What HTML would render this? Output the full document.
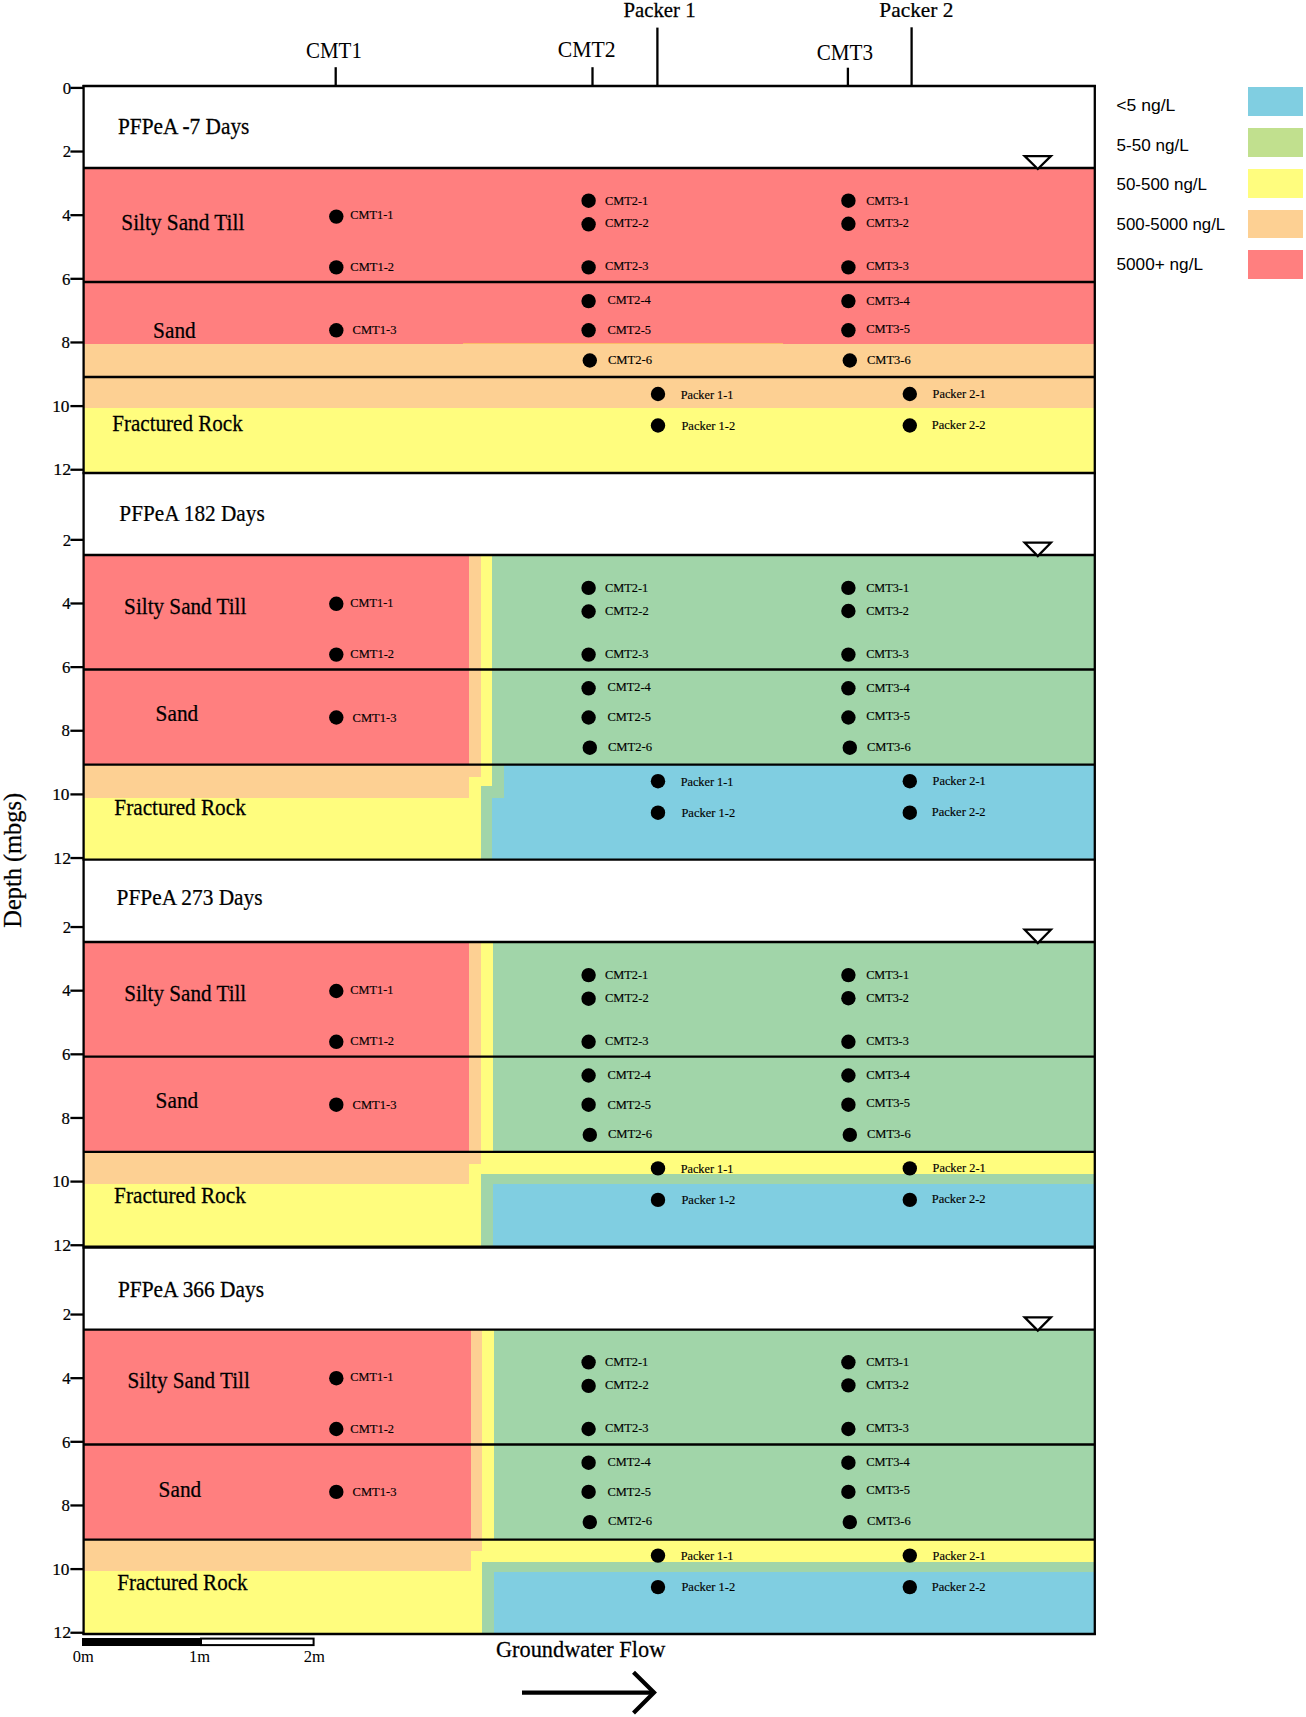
<!DOCTYPE html>
<html><head><meta charset="utf-8"><title>PFPeA depth profiles</title>
<style>
html,body{margin:0;padding:0;background:#fff;}
body{width:1306px;height:1717px;overflow:hidden;}
svg{display:block;}
text{fill:#000;}
</style></head>
<body>
<svg width="1306" height="1717" viewBox="0 0 1306 1717">
<rect x="0" y="0" width="1306" height="1717" fill="#fff"/>
<rect x="84.00" y="168.00" width="1011.00" height="176.00" fill="#FF7F7F" shape-rendering="crispEdges"/>
<rect x="84.00" y="344.00" width="1011.00" height="63.80" fill="#FDD093" shape-rendering="crispEdges"/>
<rect x="84.00" y="407.80" width="1011.00" height="65.20" fill="#FFFD7E" shape-rendering="crispEdges"/>
<rect x="463.00" y="342.60" width="320.00" height="1.00" fill="#FDBA66" shape-rendering="crispEdges"/>
<rect x="84.00" y="555.00" width="385.20" height="209.70" fill="#FF7F7F" shape-rendering="crispEdges"/>
<rect x="469.20" y="555.00" width="11.70" height="209.70" fill="#FDD093" shape-rendering="crispEdges"/>
<rect x="480.90" y="555.00" width="11.40" height="209.70" fill="#FFFD7E" shape-rendering="crispEdges"/>
<rect x="492.30" y="555.00" width="602.70" height="209.70" fill="#A1D5A9" shape-rendering="crispEdges"/>
<rect x="84.00" y="764.70" width="385.20" height="33.50" fill="#FDD093" shape-rendering="crispEdges"/>
<rect x="84.00" y="798.20" width="385.20" height="61.50" fill="#FFFD7E" shape-rendering="crispEdges"/>
<rect x="469.20" y="764.70" width="11.70" height="12.30" fill="#FDD093" shape-rendering="crispEdges"/>
<rect x="469.20" y="777.00" width="11.70" height="82.70" fill="#FFFD7E" shape-rendering="crispEdges"/>
<rect x="480.90" y="764.70" width="11.40" height="21.10" fill="#FFFD7E" shape-rendering="crispEdges"/>
<rect x="480.90" y="785.80" width="11.40" height="73.90" fill="#A1D5A9" shape-rendering="crispEdges"/>
<rect x="492.30" y="764.70" width="11.90" height="32.80" fill="#A1D5A9" shape-rendering="crispEdges"/>
<rect x="492.30" y="797.50" width="11.90" height="62.20" fill="#80CEE1" shape-rendering="crispEdges"/>
<rect x="504.20" y="764.70" width="590.80" height="95.00" fill="#80CEE1" shape-rendering="crispEdges"/>
<rect x="84.00" y="942.00" width="385.10" height="209.80" fill="#FF7F7F" shape-rendering="crispEdges"/>
<rect x="469.10" y="942.00" width="11.90" height="209.80" fill="#FDD093" shape-rendering="crispEdges"/>
<rect x="481.00" y="942.00" width="11.50" height="209.80" fill="#FFFD7E" shape-rendering="crispEdges"/>
<rect x="492.50" y="942.00" width="602.50" height="209.80" fill="#A1D5A9" shape-rendering="crispEdges"/>
<rect x="84.00" y="1151.80" width="385.10" height="32.00" fill="#FDD093" shape-rendering="crispEdges"/>
<rect x="84.00" y="1183.80" width="385.10" height="63.40" fill="#FFFD7E" shape-rendering="crispEdges"/>
<rect x="469.10" y="1151.80" width="11.90" height="11.90" fill="#FDD093" shape-rendering="crispEdges"/>
<rect x="469.10" y="1163.70" width="11.90" height="83.50" fill="#FFFD7E" shape-rendering="crispEdges"/>
<rect x="481.00" y="1151.80" width="11.50" height="22.50" fill="#FFFD7E" shape-rendering="crispEdges"/>
<rect x="481.00" y="1174.30" width="11.50" height="72.90" fill="#A1D5A9" shape-rendering="crispEdges"/>
<rect x="492.50" y="1151.80" width="602.50" height="22.50" fill="#FFFD7E" shape-rendering="crispEdges"/>
<rect x="492.50" y="1174.30" width="602.50" height="9.70" fill="#A1D5A9" shape-rendering="crispEdges"/>
<rect x="492.50" y="1184.00" width="602.50" height="63.20" fill="#80CEE1" shape-rendering="crispEdges"/>
<rect x="84.00" y="1329.60" width="386.50" height="210.10" fill="#FF7F7F" shape-rendering="crispEdges"/>
<rect x="470.50" y="1329.60" width="11.50" height="210.10" fill="#FDD093" shape-rendering="crispEdges"/>
<rect x="482.00" y="1329.60" width="11.80" height="210.10" fill="#FFFD7E" shape-rendering="crispEdges"/>
<rect x="493.80" y="1329.60" width="601.20" height="210.10" fill="#A1D5A9" shape-rendering="crispEdges"/>
<rect x="84.00" y="1539.70" width="386.50" height="31.30" fill="#FDD093" shape-rendering="crispEdges"/>
<rect x="84.00" y="1571.00" width="386.50" height="63.00" fill="#FFFD7E" shape-rendering="crispEdges"/>
<rect x="470.50" y="1539.70" width="11.50" height="11.30" fill="#FDD093" shape-rendering="crispEdges"/>
<rect x="470.50" y="1551.00" width="11.50" height="83.00" fill="#FFFD7E" shape-rendering="crispEdges"/>
<rect x="482.00" y="1539.70" width="11.80" height="22.30" fill="#FFFD7E" shape-rendering="crispEdges"/>
<rect x="482.00" y="1562.00" width="11.80" height="72.00" fill="#A1D5A9" shape-rendering="crispEdges"/>
<rect x="493.80" y="1539.70" width="601.20" height="22.30" fill="#FFFD7E" shape-rendering="crispEdges"/>
<rect x="493.80" y="1562.00" width="601.20" height="9.50" fill="#A1D5A9" shape-rendering="crispEdges"/>
<rect x="493.80" y="1571.50" width="601.20" height="62.50" fill="#80CEE1" shape-rendering="crispEdges"/>
<line x1="82.50" y1="86.00" x2="1095.90" y2="86.00" stroke="#000" stroke-width="2.3"/>
<line x1="83.60" y1="168.00" x2="1094.80" y2="168.00" stroke="#000" stroke-width="2.3"/>
<line x1="83.60" y1="282.00" x2="1094.80" y2="282.00" stroke="#000" stroke-width="2.3"/>
<line x1="83.60" y1="377.00" x2="1094.80" y2="377.00" stroke="#000" stroke-width="2.3"/>
<line x1="82.50" y1="473.00" x2="1095.90" y2="473.00" stroke="#000" stroke-width="2.3"/>
<line x1="83.60" y1="555.00" x2="1094.80" y2="555.00" stroke="#000" stroke-width="2.3"/>
<line x1="83.60" y1="669.50" x2="1094.80" y2="669.50" stroke="#000" stroke-width="2.3"/>
<line x1="83.60" y1="764.70" x2="1094.80" y2="764.70" stroke="#000" stroke-width="2.3"/>
<line x1="82.50" y1="859.70" x2="1095.90" y2="859.70" stroke="#000" stroke-width="2.3"/>
<line x1="83.60" y1="942.00" x2="1094.80" y2="942.00" stroke="#000" stroke-width="2.3"/>
<line x1="83.60" y1="1056.70" x2="1094.80" y2="1056.70" stroke="#000" stroke-width="2.3"/>
<line x1="83.60" y1="1151.80" x2="1094.80" y2="1151.80" stroke="#000" stroke-width="2.3"/>
<line x1="82.50" y1="1247.20" x2="1095.90" y2="1247.20" stroke="#000" stroke-width="3.2"/>
<line x1="83.60" y1="1329.60" x2="1094.80" y2="1329.60" stroke="#000" stroke-width="2.3"/>
<line x1="83.60" y1="1444.50" x2="1094.80" y2="1444.50" stroke="#000" stroke-width="2.3"/>
<line x1="83.60" y1="1539.70" x2="1094.80" y2="1539.70" stroke="#000" stroke-width="2.3"/>
<line x1="82.50" y1="1634.00" x2="1095.90" y2="1634.00" stroke="#000" stroke-width="2.3"/>
<line x1="83.60" y1="84.90" x2="83.60" y2="1635.10" stroke="#000" stroke-width="2.3"/>
<line x1="1094.80" y1="84.90" x2="1094.80" y2="1635.10" stroke="#000" stroke-width="2.3"/>
<path d="M1024.7 156.10 L1050.9 156.10 L1037.8 169.00 Z" fill="#fff" stroke="#000" stroke-width="2.3" stroke-miterlimit="10"/>
<path d="M1024.7 542.70 L1050.9 542.70 L1037.8 556.00 Z" fill="#fff" stroke="#000" stroke-width="2.3" stroke-miterlimit="10"/>
<path d="M1024.7 929.70 L1050.9 929.70 L1037.8 943.00 Z" fill="#fff" stroke="#000" stroke-width="2.3" stroke-miterlimit="10"/>
<path d="M1024.7 1317.30 L1050.9 1317.30 L1037.8 1330.60 Z" fill="#fff" stroke="#000" stroke-width="2.3" stroke-miterlimit="10"/>
<line x1="70.40" y1="87.90" x2="83.60" y2="87.90" stroke="#000" stroke-width="2.3"/>
<text transform="matrix(1.0000,0,0,1,62.87,93.60)" font-family='"Liberation Serif", serif' font-size="16.8" stroke="#000" stroke-width="0.2">0</text>
<line x1="70.40" y1="151.54" x2="83.60" y2="151.54" stroke="#000" stroke-width="2.3"/>
<text transform="matrix(1.0000,0,0,1,62.72,157.24)" font-family='"Liberation Serif", serif' font-size="16.8" stroke="#000" stroke-width="0.2">2</text>
<line x1="70.40" y1="215.18" x2="83.60" y2="215.18" stroke="#000" stroke-width="2.3"/>
<text transform="matrix(1.0000,0,0,1,62.25,220.88)" font-family='"Liberation Serif", serif' font-size="16.8" stroke="#000" stroke-width="0.2">4</text>
<line x1="70.40" y1="278.82" x2="83.60" y2="278.82" stroke="#000" stroke-width="2.3"/>
<text transform="matrix(1.0000,0,0,1,62.10,284.52)" font-family='"Liberation Serif", serif' font-size="16.8" stroke="#000" stroke-width="0.2">6</text>
<line x1="70.40" y1="342.46" x2="83.60" y2="342.46" stroke="#000" stroke-width="2.3"/>
<text transform="matrix(1.0000,0,0,1,61.47,348.16)" font-family='"Liberation Serif", serif' font-size="16.8" stroke="#000" stroke-width="0.2">8</text>
<line x1="70.40" y1="406.10" x2="83.60" y2="406.10" stroke="#000" stroke-width="2.3"/>
<text transform="matrix(1.0331,0,0,1,52.14,411.80)" font-family='"Liberation Serif", serif' font-size="16.8" stroke="#000" stroke-width="0.2">10</text>
<line x1="70.40" y1="469.74" x2="83.60" y2="469.74" stroke="#000" stroke-width="2.3"/>
<text transform="matrix(1.0652,0,0,1,53.19,475.44)" font-family='"Liberation Serif", serif' font-size="16.8" stroke="#000" stroke-width="0.2">12</text>
<line x1="70.40" y1="539.84" x2="83.60" y2="539.84" stroke="#000" stroke-width="2.3"/>
<text transform="matrix(1.0000,0,0,1,62.72,545.54)" font-family='"Liberation Serif", serif' font-size="16.8" stroke="#000" stroke-width="0.2">2</text>
<line x1="70.40" y1="603.48" x2="83.60" y2="603.48" stroke="#000" stroke-width="2.3"/>
<text transform="matrix(1.0000,0,0,1,62.25,609.18)" font-family='"Liberation Serif", serif' font-size="16.8" stroke="#000" stroke-width="0.2">4</text>
<line x1="70.40" y1="667.12" x2="83.60" y2="667.12" stroke="#000" stroke-width="2.3"/>
<text transform="matrix(1.0000,0,0,1,62.10,672.82)" font-family='"Liberation Serif", serif' font-size="16.8" stroke="#000" stroke-width="0.2">6</text>
<line x1="70.40" y1="730.76" x2="83.60" y2="730.76" stroke="#000" stroke-width="2.3"/>
<text transform="matrix(1.0000,0,0,1,61.47,736.46)" font-family='"Liberation Serif", serif' font-size="16.8" stroke="#000" stroke-width="0.2">8</text>
<line x1="70.40" y1="794.40" x2="83.60" y2="794.40" stroke="#000" stroke-width="2.3"/>
<text transform="matrix(1.0331,0,0,1,52.14,800.10)" font-family='"Liberation Serif", serif' font-size="16.8" stroke="#000" stroke-width="0.2">10</text>
<line x1="70.40" y1="858.04" x2="83.60" y2="858.04" stroke="#000" stroke-width="2.3"/>
<text transform="matrix(1.0652,0,0,1,53.19,863.74)" font-family='"Liberation Serif", serif' font-size="16.8" stroke="#000" stroke-width="0.2">12</text>
<line x1="70.40" y1="927.04" x2="83.60" y2="927.04" stroke="#000" stroke-width="2.3"/>
<text transform="matrix(1.0000,0,0,1,62.72,932.74)" font-family='"Liberation Serif", serif' font-size="16.8" stroke="#000" stroke-width="0.2">2</text>
<line x1="70.40" y1="990.68" x2="83.60" y2="990.68" stroke="#000" stroke-width="2.3"/>
<text transform="matrix(1.0000,0,0,1,62.25,996.38)" font-family='"Liberation Serif", serif' font-size="16.8" stroke="#000" stroke-width="0.2">4</text>
<line x1="70.40" y1="1054.32" x2="83.60" y2="1054.32" stroke="#000" stroke-width="2.3"/>
<text transform="matrix(1.0000,0,0,1,62.10,1060.02)" font-family='"Liberation Serif", serif' font-size="16.8" stroke="#000" stroke-width="0.2">6</text>
<line x1="70.40" y1="1117.96" x2="83.60" y2="1117.96" stroke="#000" stroke-width="2.3"/>
<text transform="matrix(1.0000,0,0,1,61.47,1123.66)" font-family='"Liberation Serif", serif' font-size="16.8" stroke="#000" stroke-width="0.2">8</text>
<line x1="70.40" y1="1181.60" x2="83.60" y2="1181.60" stroke="#000" stroke-width="2.3"/>
<text transform="matrix(1.0331,0,0,1,52.14,1187.30)" font-family='"Liberation Serif", serif' font-size="16.8" stroke="#000" stroke-width="0.2">10</text>
<line x1="70.40" y1="1245.24" x2="83.60" y2="1245.24" stroke="#000" stroke-width="2.3"/>
<text transform="matrix(1.0652,0,0,1,53.19,1250.94)" font-family='"Liberation Serif", serif' font-size="16.8" stroke="#000" stroke-width="0.2">12</text>
<line x1="70.40" y1="1314.54" x2="83.60" y2="1314.54" stroke="#000" stroke-width="2.3"/>
<text transform="matrix(1.0000,0,0,1,62.72,1320.24)" font-family='"Liberation Serif", serif' font-size="16.8" stroke="#000" stroke-width="0.2">2</text>
<line x1="70.40" y1="1378.18" x2="83.60" y2="1378.18" stroke="#000" stroke-width="2.3"/>
<text transform="matrix(1.0000,0,0,1,62.25,1383.88)" font-family='"Liberation Serif", serif' font-size="16.8" stroke="#000" stroke-width="0.2">4</text>
<line x1="70.40" y1="1441.82" x2="83.60" y2="1441.82" stroke="#000" stroke-width="2.3"/>
<text transform="matrix(1.0000,0,0,1,62.10,1447.52)" font-family='"Liberation Serif", serif' font-size="16.8" stroke="#000" stroke-width="0.2">6</text>
<line x1="70.40" y1="1505.46" x2="83.60" y2="1505.46" stroke="#000" stroke-width="2.3"/>
<text transform="matrix(1.0000,0,0,1,61.47,1511.16)" font-family='"Liberation Serif", serif' font-size="16.8" stroke="#000" stroke-width="0.2">8</text>
<line x1="70.40" y1="1569.10" x2="83.60" y2="1569.10" stroke="#000" stroke-width="2.3"/>
<text transform="matrix(1.0331,0,0,1,52.14,1574.80)" font-family='"Liberation Serif", serif' font-size="16.8" stroke="#000" stroke-width="0.2">10</text>
<line x1="70.40" y1="1632.74" x2="83.60" y2="1632.74" stroke="#000" stroke-width="2.3"/>
<text transform="matrix(1.0652,0,0,1,53.19,1638.44)" font-family='"Liberation Serif", serif' font-size="16.8" stroke="#000" stroke-width="0.2">12</text>
<circle cx="336.30" cy="216.60" r="7.2" fill="#000"/>
<text transform="matrix(0.9129,0,0,1,350.31,219.40)" font-family='"Liberation Serif", serif' font-size="13.5" stroke="#000" stroke-width="0.15">CMT1-1</text>
<circle cx="336.30" cy="267.40" r="7.2" fill="#000"/>
<text transform="matrix(0.9267,0,0,1,350.30,270.90)" font-family='"Liberation Serif", serif' font-size="13.5" stroke="#000" stroke-width="0.15">CMT1-2</text>
<circle cx="336.30" cy="330.30" r="7.2" fill="#000"/>
<text transform="matrix(0.9292,0,0,1,352.60,334.30)" font-family='"Liberation Serif", serif' font-size="13.5" stroke="#000" stroke-width="0.15">CMT1-3</text>
<circle cx="588.60" cy="200.70" r="7.2" fill="#000"/>
<text transform="matrix(0.9150,0,0,1,605.01,204.50)" font-family='"Liberation Serif", serif' font-size="13.5" stroke="#000" stroke-width="0.15">CMT2-1</text>
<circle cx="588.60" cy="224.30" r="7.2" fill="#000"/>
<text transform="matrix(0.9246,0,0,1,605.00,227.30)" font-family='"Liberation Serif", serif' font-size="13.5" stroke="#000" stroke-width="0.15">CMT2-2</text>
<circle cx="588.60" cy="267.40" r="7.2" fill="#000"/>
<text transform="matrix(0.9205,0,0,1,605.00,270.40)" font-family='"Liberation Serif", serif' font-size="13.5" stroke="#000" stroke-width="0.15">CMT2-3</text>
<circle cx="588.60" cy="301.10" r="7.2" fill="#000"/>
<text transform="matrix(0.9181,0,0,1,607.40,304.20)" font-family='"Liberation Serif", serif' font-size="13.5" stroke="#000" stroke-width="0.15">CMT2-4</text>
<circle cx="588.60" cy="330.30" r="7.2" fill="#000"/>
<text transform="matrix(0.9248,0,0,1,607.40,334.10)" font-family='"Liberation Serif", serif' font-size="13.5" stroke="#000" stroke-width="0.15">CMT2-5</text>
<circle cx="589.80" cy="360.50" r="7.2" fill="#000"/>
<text transform="matrix(0.9373,0,0,1,607.89,363.80)" font-family='"Liberation Serif", serif' font-size="13.5" stroke="#000" stroke-width="0.15">CMT2-6</text>
<circle cx="848.40" cy="200.70" r="7.2" fill="#000"/>
<text transform="matrix(0.9063,0,0,1,866.21,204.50)" font-family='"Liberation Serif", serif' font-size="13.5" stroke="#000" stroke-width="0.15">CMT3-1</text>
<circle cx="848.40" cy="223.80" r="7.2" fill="#000"/>
<text transform="matrix(0.9050,0,0,1,866.21,227.30)" font-family='"Liberation Serif", serif' font-size="13.5" stroke="#000" stroke-width="0.15">CMT3-2</text>
<circle cx="848.40" cy="267.40" r="7.2" fill="#000"/>
<text transform="matrix(0.9010,0,0,1,866.21,270.40)" font-family='"Liberation Serif", serif' font-size="13.5" stroke="#000" stroke-width="0.15">CMT3-3</text>
<circle cx="848.40" cy="301.10" r="7.2" fill="#000"/>
<text transform="matrix(0.9224,0,0,1,866.20,304.70)" font-family='"Liberation Serif", serif' font-size="13.5" stroke="#000" stroke-width="0.15">CMT3-4</text>
<circle cx="848.40" cy="330.30" r="7.2" fill="#000"/>
<text transform="matrix(0.9292,0,0,1,866.20,332.70)" font-family='"Liberation Serif", serif' font-size="13.5" stroke="#000" stroke-width="0.15">CMT3-5</text>
<circle cx="849.80" cy="360.50" r="7.2" fill="#000"/>
<text transform="matrix(0.9265,0,0,1,867.00,363.80)" font-family='"Liberation Serif", serif' font-size="13.5" stroke="#000" stroke-width="0.15">CMT3-6</text>
<circle cx="658.00" cy="394.00" r="7.2" fill="#000"/>
<text transform="matrix(0.9658,0,0,1,680.63,398.80)" font-family='"Liberation Serif", serif' font-size="12.7" stroke="#000" stroke-width="0.15">Packer 1-1</text>
<circle cx="658.00" cy="425.50" r="7.2" fill="#000"/>
<text transform="matrix(0.9852,0,0,1,681.42,429.80)" font-family='"Liberation Serif", serif' font-size="12.7" stroke="#000" stroke-width="0.15">Packer 1-2</text>
<circle cx="909.80" cy="394.00" r="7.2" fill="#000"/>
<text transform="matrix(0.9733,0,0,1,932.53,398.00)" font-family='"Liberation Serif", serif' font-size="12.7" stroke="#000" stroke-width="0.15">Packer 2-1</text>
<circle cx="909.80" cy="425.50" r="7.2" fill="#000"/>
<text transform="matrix(0.9871,0,0,1,931.72,429.00)" font-family='"Liberation Serif", serif' font-size="12.7" stroke="#000" stroke-width="0.15">Packer 2-2</text>
<circle cx="336.30" cy="603.80" r="7.2" fill="#000"/>
<text transform="matrix(0.9129,0,0,1,350.31,606.60)" font-family='"Liberation Serif", serif' font-size="13.5" stroke="#000" stroke-width="0.15">CMT1-1</text>
<circle cx="336.30" cy="654.60" r="7.2" fill="#000"/>
<text transform="matrix(0.9267,0,0,1,350.30,658.10)" font-family='"Liberation Serif", serif' font-size="13.5" stroke="#000" stroke-width="0.15">CMT1-2</text>
<circle cx="336.30" cy="717.50" r="7.2" fill="#000"/>
<text transform="matrix(0.9292,0,0,1,352.60,721.50)" font-family='"Liberation Serif", serif' font-size="13.5" stroke="#000" stroke-width="0.15">CMT1-3</text>
<circle cx="588.60" cy="587.90" r="7.2" fill="#000"/>
<text transform="matrix(0.9150,0,0,1,605.01,591.70)" font-family='"Liberation Serif", serif' font-size="13.5" stroke="#000" stroke-width="0.15">CMT2-1</text>
<circle cx="588.60" cy="611.50" r="7.2" fill="#000"/>
<text transform="matrix(0.9246,0,0,1,605.00,614.50)" font-family='"Liberation Serif", serif' font-size="13.5" stroke="#000" stroke-width="0.15">CMT2-2</text>
<circle cx="588.60" cy="654.60" r="7.2" fill="#000"/>
<text transform="matrix(0.9205,0,0,1,605.00,657.60)" font-family='"Liberation Serif", serif' font-size="13.5" stroke="#000" stroke-width="0.15">CMT2-3</text>
<circle cx="588.60" cy="688.30" r="7.2" fill="#000"/>
<text transform="matrix(0.9181,0,0,1,607.40,691.40)" font-family='"Liberation Serif", serif' font-size="13.5" stroke="#000" stroke-width="0.15">CMT2-4</text>
<circle cx="588.60" cy="717.50" r="7.2" fill="#000"/>
<text transform="matrix(0.9248,0,0,1,607.40,721.30)" font-family='"Liberation Serif", serif' font-size="13.5" stroke="#000" stroke-width="0.15">CMT2-5</text>
<circle cx="589.80" cy="747.70" r="7.2" fill="#000"/>
<text transform="matrix(0.9373,0,0,1,607.89,751.00)" font-family='"Liberation Serif", serif' font-size="13.5" stroke="#000" stroke-width="0.15">CMT2-6</text>
<circle cx="848.40" cy="587.90" r="7.2" fill="#000"/>
<text transform="matrix(0.9063,0,0,1,866.21,591.70)" font-family='"Liberation Serif", serif' font-size="13.5" stroke="#000" stroke-width="0.15">CMT3-1</text>
<circle cx="848.40" cy="611.00" r="7.2" fill="#000"/>
<text transform="matrix(0.9050,0,0,1,866.21,614.50)" font-family='"Liberation Serif", serif' font-size="13.5" stroke="#000" stroke-width="0.15">CMT3-2</text>
<circle cx="848.40" cy="654.60" r="7.2" fill="#000"/>
<text transform="matrix(0.9010,0,0,1,866.21,657.60)" font-family='"Liberation Serif", serif' font-size="13.5" stroke="#000" stroke-width="0.15">CMT3-3</text>
<circle cx="848.40" cy="688.30" r="7.2" fill="#000"/>
<text transform="matrix(0.9224,0,0,1,866.20,691.90)" font-family='"Liberation Serif", serif' font-size="13.5" stroke="#000" stroke-width="0.15">CMT3-4</text>
<circle cx="848.40" cy="717.50" r="7.2" fill="#000"/>
<text transform="matrix(0.9292,0,0,1,866.20,719.90)" font-family='"Liberation Serif", serif' font-size="13.5" stroke="#000" stroke-width="0.15">CMT3-5</text>
<circle cx="849.80" cy="747.70" r="7.2" fill="#000"/>
<text transform="matrix(0.9265,0,0,1,867.00,751.00)" font-family='"Liberation Serif", serif' font-size="13.5" stroke="#000" stroke-width="0.15">CMT3-6</text>
<circle cx="658.00" cy="781.20" r="7.2" fill="#000"/>
<text transform="matrix(0.9658,0,0,1,680.63,786.00)" font-family='"Liberation Serif", serif' font-size="12.7" stroke="#000" stroke-width="0.15">Packer 1-1</text>
<circle cx="658.00" cy="812.70" r="7.2" fill="#000"/>
<text transform="matrix(0.9852,0,0,1,681.42,817.00)" font-family='"Liberation Serif", serif' font-size="12.7" stroke="#000" stroke-width="0.15">Packer 1-2</text>
<circle cx="909.80" cy="781.20" r="7.2" fill="#000"/>
<text transform="matrix(0.9733,0,0,1,932.53,785.20)" font-family='"Liberation Serif", serif' font-size="12.7" stroke="#000" stroke-width="0.15">Packer 2-1</text>
<circle cx="909.80" cy="812.70" r="7.2" fill="#000"/>
<text transform="matrix(0.9871,0,0,1,931.72,816.20)" font-family='"Liberation Serif", serif' font-size="12.7" stroke="#000" stroke-width="0.15">Packer 2-2</text>
<circle cx="336.30" cy="991.00" r="7.2" fill="#000"/>
<text transform="matrix(0.9129,0,0,1,350.31,993.80)" font-family='"Liberation Serif", serif' font-size="13.5" stroke="#000" stroke-width="0.15">CMT1-1</text>
<circle cx="336.30" cy="1041.80" r="7.2" fill="#000"/>
<text transform="matrix(0.9267,0,0,1,350.30,1045.30)" font-family='"Liberation Serif", serif' font-size="13.5" stroke="#000" stroke-width="0.15">CMT1-2</text>
<circle cx="336.30" cy="1104.70" r="7.2" fill="#000"/>
<text transform="matrix(0.9292,0,0,1,352.60,1108.70)" font-family='"Liberation Serif", serif' font-size="13.5" stroke="#000" stroke-width="0.15">CMT1-3</text>
<circle cx="588.60" cy="975.10" r="7.2" fill="#000"/>
<text transform="matrix(0.9150,0,0,1,605.01,978.90)" font-family='"Liberation Serif", serif' font-size="13.5" stroke="#000" stroke-width="0.15">CMT2-1</text>
<circle cx="588.60" cy="998.70" r="7.2" fill="#000"/>
<text transform="matrix(0.9246,0,0,1,605.00,1001.70)" font-family='"Liberation Serif", serif' font-size="13.5" stroke="#000" stroke-width="0.15">CMT2-2</text>
<circle cx="588.60" cy="1041.80" r="7.2" fill="#000"/>
<text transform="matrix(0.9205,0,0,1,605.00,1044.80)" font-family='"Liberation Serif", serif' font-size="13.5" stroke="#000" stroke-width="0.15">CMT2-3</text>
<circle cx="588.60" cy="1075.50" r="7.2" fill="#000"/>
<text transform="matrix(0.9181,0,0,1,607.40,1078.60)" font-family='"Liberation Serif", serif' font-size="13.5" stroke="#000" stroke-width="0.15">CMT2-4</text>
<circle cx="588.60" cy="1104.70" r="7.2" fill="#000"/>
<text transform="matrix(0.9248,0,0,1,607.40,1108.50)" font-family='"Liberation Serif", serif' font-size="13.5" stroke="#000" stroke-width="0.15">CMT2-5</text>
<circle cx="589.80" cy="1134.90" r="7.2" fill="#000"/>
<text transform="matrix(0.9373,0,0,1,607.89,1138.20)" font-family='"Liberation Serif", serif' font-size="13.5" stroke="#000" stroke-width="0.15">CMT2-6</text>
<circle cx="848.40" cy="975.10" r="7.2" fill="#000"/>
<text transform="matrix(0.9063,0,0,1,866.21,978.90)" font-family='"Liberation Serif", serif' font-size="13.5" stroke="#000" stroke-width="0.15">CMT3-1</text>
<circle cx="848.40" cy="998.20" r="7.2" fill="#000"/>
<text transform="matrix(0.9050,0,0,1,866.21,1001.70)" font-family='"Liberation Serif", serif' font-size="13.5" stroke="#000" stroke-width="0.15">CMT3-2</text>
<circle cx="848.40" cy="1041.80" r="7.2" fill="#000"/>
<text transform="matrix(0.9010,0,0,1,866.21,1044.80)" font-family='"Liberation Serif", serif' font-size="13.5" stroke="#000" stroke-width="0.15">CMT3-3</text>
<circle cx="848.40" cy="1075.50" r="7.2" fill="#000"/>
<text transform="matrix(0.9224,0,0,1,866.20,1079.10)" font-family='"Liberation Serif", serif' font-size="13.5" stroke="#000" stroke-width="0.15">CMT3-4</text>
<circle cx="848.40" cy="1104.70" r="7.2" fill="#000"/>
<text transform="matrix(0.9292,0,0,1,866.20,1107.10)" font-family='"Liberation Serif", serif' font-size="13.5" stroke="#000" stroke-width="0.15">CMT3-5</text>
<circle cx="849.80" cy="1134.90" r="7.2" fill="#000"/>
<text transform="matrix(0.9265,0,0,1,867.00,1138.20)" font-family='"Liberation Serif", serif' font-size="13.5" stroke="#000" stroke-width="0.15">CMT3-6</text>
<circle cx="658.00" cy="1168.40" r="7.2" fill="#000"/>
<text transform="matrix(0.9658,0,0,1,680.63,1173.20)" font-family='"Liberation Serif", serif' font-size="12.7" stroke="#000" stroke-width="0.15">Packer 1-1</text>
<circle cx="658.00" cy="1199.90" r="7.2" fill="#000"/>
<text transform="matrix(0.9852,0,0,1,681.42,1204.20)" font-family='"Liberation Serif", serif' font-size="12.7" stroke="#000" stroke-width="0.15">Packer 1-2</text>
<circle cx="909.80" cy="1168.40" r="7.2" fill="#000"/>
<text transform="matrix(0.9733,0,0,1,932.53,1172.40)" font-family='"Liberation Serif", serif' font-size="12.7" stroke="#000" stroke-width="0.15">Packer 2-1</text>
<circle cx="909.80" cy="1199.90" r="7.2" fill="#000"/>
<text transform="matrix(0.9871,0,0,1,931.72,1203.40)" font-family='"Liberation Serif", serif' font-size="12.7" stroke="#000" stroke-width="0.15">Packer 2-2</text>
<circle cx="336.30" cy="1378.20" r="7.2" fill="#000"/>
<text transform="matrix(0.9129,0,0,1,350.31,1381.00)" font-family='"Liberation Serif", serif' font-size="13.5" stroke="#000" stroke-width="0.15">CMT1-1</text>
<circle cx="336.30" cy="1429.00" r="7.2" fill="#000"/>
<text transform="matrix(0.9267,0,0,1,350.30,1432.50)" font-family='"Liberation Serif", serif' font-size="13.5" stroke="#000" stroke-width="0.15">CMT1-2</text>
<circle cx="336.30" cy="1491.90" r="7.2" fill="#000"/>
<text transform="matrix(0.9292,0,0,1,352.60,1495.90)" font-family='"Liberation Serif", serif' font-size="13.5" stroke="#000" stroke-width="0.15">CMT1-3</text>
<circle cx="588.60" cy="1362.30" r="7.2" fill="#000"/>
<text transform="matrix(0.9150,0,0,1,605.01,1366.10)" font-family='"Liberation Serif", serif' font-size="13.5" stroke="#000" stroke-width="0.15">CMT2-1</text>
<circle cx="588.60" cy="1385.90" r="7.2" fill="#000"/>
<text transform="matrix(0.9246,0,0,1,605.00,1388.90)" font-family='"Liberation Serif", serif' font-size="13.5" stroke="#000" stroke-width="0.15">CMT2-2</text>
<circle cx="588.60" cy="1429.00" r="7.2" fill="#000"/>
<text transform="matrix(0.9205,0,0,1,605.00,1432.00)" font-family='"Liberation Serif", serif' font-size="13.5" stroke="#000" stroke-width="0.15">CMT2-3</text>
<circle cx="588.60" cy="1462.70" r="7.2" fill="#000"/>
<text transform="matrix(0.9181,0,0,1,607.40,1465.80)" font-family='"Liberation Serif", serif' font-size="13.5" stroke="#000" stroke-width="0.15">CMT2-4</text>
<circle cx="588.60" cy="1491.90" r="7.2" fill="#000"/>
<text transform="matrix(0.9248,0,0,1,607.40,1495.70)" font-family='"Liberation Serif", serif' font-size="13.5" stroke="#000" stroke-width="0.15">CMT2-5</text>
<circle cx="589.80" cy="1522.10" r="7.2" fill="#000"/>
<text transform="matrix(0.9373,0,0,1,607.89,1525.40)" font-family='"Liberation Serif", serif' font-size="13.5" stroke="#000" stroke-width="0.15">CMT2-6</text>
<circle cx="848.40" cy="1362.30" r="7.2" fill="#000"/>
<text transform="matrix(0.9063,0,0,1,866.21,1366.10)" font-family='"Liberation Serif", serif' font-size="13.5" stroke="#000" stroke-width="0.15">CMT3-1</text>
<circle cx="848.40" cy="1385.40" r="7.2" fill="#000"/>
<text transform="matrix(0.9050,0,0,1,866.21,1388.90)" font-family='"Liberation Serif", serif' font-size="13.5" stroke="#000" stroke-width="0.15">CMT3-2</text>
<circle cx="848.40" cy="1429.00" r="7.2" fill="#000"/>
<text transform="matrix(0.9010,0,0,1,866.21,1432.00)" font-family='"Liberation Serif", serif' font-size="13.5" stroke="#000" stroke-width="0.15">CMT3-3</text>
<circle cx="848.40" cy="1462.70" r="7.2" fill="#000"/>
<text transform="matrix(0.9224,0,0,1,866.20,1466.30)" font-family='"Liberation Serif", serif' font-size="13.5" stroke="#000" stroke-width="0.15">CMT3-4</text>
<circle cx="848.40" cy="1491.90" r="7.2" fill="#000"/>
<text transform="matrix(0.9292,0,0,1,866.20,1494.30)" font-family='"Liberation Serif", serif' font-size="13.5" stroke="#000" stroke-width="0.15">CMT3-5</text>
<circle cx="849.80" cy="1522.10" r="7.2" fill="#000"/>
<text transform="matrix(0.9265,0,0,1,867.00,1525.40)" font-family='"Liberation Serif", serif' font-size="13.5" stroke="#000" stroke-width="0.15">CMT3-6</text>
<circle cx="658.00" cy="1555.60" r="7.2" fill="#000"/>
<text transform="matrix(0.9658,0,0,1,680.63,1560.40)" font-family='"Liberation Serif", serif' font-size="12.7" stroke="#000" stroke-width="0.15">Packer 1-1</text>
<circle cx="658.00" cy="1587.10" r="7.2" fill="#000"/>
<text transform="matrix(0.9852,0,0,1,681.42,1591.40)" font-family='"Liberation Serif", serif' font-size="12.7" stroke="#000" stroke-width="0.15">Packer 1-2</text>
<circle cx="909.80" cy="1555.60" r="7.2" fill="#000"/>
<text transform="matrix(0.9733,0,0,1,932.53,1559.60)" font-family='"Liberation Serif", serif' font-size="12.7" stroke="#000" stroke-width="0.15">Packer 2-1</text>
<circle cx="909.80" cy="1587.10" r="7.2" fill="#000"/>
<text transform="matrix(0.9871,0,0,1,931.72,1590.60)" font-family='"Liberation Serif", serif' font-size="12.7" stroke="#000" stroke-width="0.15">Packer 2-2</text>
<text transform="matrix(0.9273,0,0,1,117.96,134.40)" font-family='"Liberation Serif", serif' font-size="23.0" stroke="#000" stroke-width="0.25">PFPeA -7 Days</text>
<text transform="matrix(0.9248,0,0,1,119.36,521.00)" font-family='"Liberation Serif", serif' font-size="23.0" stroke="#000" stroke-width="0.25">PFPeA 182 Days</text>
<text transform="matrix(0.9299,0,0,1,116.56,905.30)" font-family='"Liberation Serif", serif' font-size="23.0" stroke="#000" stroke-width="0.25">PFPeA 273 Days</text>
<text transform="matrix(0.9293,0,0,1,117.96,1297.40)" font-family='"Liberation Serif", serif' font-size="23.0" stroke="#000" stroke-width="0.25">PFPeA 366 Days</text>
<text transform="matrix(0.9334,0,0,1,121.32,229.70)" font-family='"Liberation Serif", serif' font-size="22.8" stroke="#000" stroke-width="0.25">Silty Sand Till</text>
<text transform="matrix(0.9280,0,0,1,124.12,613.50)" font-family='"Liberation Serif", serif' font-size="22.8" stroke="#000" stroke-width="0.25">Silty Sand Till</text>
<text transform="matrix(0.9272,0,0,1,124.13,1000.60)" font-family='"Liberation Serif", serif' font-size="22.8" stroke="#000" stroke-width="0.25">Silty Sand Till</text>
<text transform="matrix(0.9280,0,0,1,127.52,1387.80)" font-family='"Liberation Serif", serif' font-size="22.8" stroke="#000" stroke-width="0.25">Silty Sand Till</text>
<text transform="matrix(0.9364,0,0,1,153.11,338.20)" font-family='"Liberation Serif", serif' font-size="22.8" stroke="#000" stroke-width="0.25">Sand</text>
<text transform="matrix(0.9342,0,0,1,155.62,721.30)" font-family='"Liberation Serif", serif' font-size="22.8" stroke="#000" stroke-width="0.25">Sand</text>
<text transform="matrix(0.9342,0,0,1,155.62,1108.40)" font-family='"Liberation Serif", serif' font-size="22.8" stroke="#000" stroke-width="0.25">Sand</text>
<text transform="matrix(0.9342,0,0,1,158.62,1496.60)" font-family='"Liberation Serif", serif' font-size="22.8" stroke="#000" stroke-width="0.25">Sand</text>
<text transform="matrix(0.9242,0,0,1,112.27,431.00)" font-family='"Liberation Serif", serif' font-size="22.8" stroke="#000" stroke-width="0.25">Fractured Rock</text>
<text transform="matrix(0.9313,0,0,1,114.36,815.00)" font-family='"Liberation Serif", serif' font-size="22.8" stroke="#000" stroke-width="0.25">Fractured Rock</text>
<text transform="matrix(0.9334,0,0,1,114.06,1202.50)" font-family='"Liberation Serif", serif' font-size="22.8" stroke="#000" stroke-width="0.25">Fractured Rock</text>
<text transform="matrix(0.9242,0,0,1,117.17,1589.70)" font-family='"Liberation Serif", serif' font-size="22.8" stroke="#000" stroke-width="0.25">Fractured Rock</text>
<text transform="matrix(0.8985,0,0,1,306.06,57.90)" font-family='"Liberation Serif", serif' font-size="23.3">CMT1</text>
<text transform="matrix(0.9302,0,0,1,557.73,57.40)" font-family='"Liberation Serif", serif' font-size="23.3">CMT2</text>
<text transform="matrix(0.9065,0,0,1,816.76,59.90)" font-family='"Liberation Serif", serif' font-size="23.3">CMT3</text>
<text transform="matrix(0.9541,0,0,1,623.38,17.20)" font-family='"Liberation Serif", serif' font-size="21.8" stroke="#000" stroke-width="0.25">Packer 1</text>
<text transform="matrix(0.9798,0,0,1,879.36,17.20)" font-family='"Liberation Serif", serif' font-size="21.8" stroke="#000" stroke-width="0.25">Packer 2</text>
<line x1="335.70" y1="67.20" x2="335.70" y2="86.00" stroke="#000" stroke-width="2.3"/>
<line x1="592.50" y1="67.20" x2="592.50" y2="86.00" stroke="#000" stroke-width="2.3"/>
<line x1="657.40" y1="27.60" x2="657.40" y2="86.00" stroke="#000" stroke-width="2.3"/>
<line x1="847.90" y1="67.70" x2="847.90" y2="86.00" stroke="#000" stroke-width="2.3"/>
<line x1="911.60" y1="27.30" x2="911.60" y2="86.00" stroke="#000" stroke-width="2.3"/>
<text transform="matrix(1.0332,0,0,1,1116.32,111.40)" font-family='"Liberation Sans", sans-serif' font-size="17.0">&lt;5 ng/L</text>
<rect x="1248.00" y="87.40" width="55.00" height="28.50" fill="#80CEE1" shape-rendering="crispEdges"/>
<text transform="matrix(1.0066,0,0,1,1116.52,150.70)" font-family='"Liberation Sans", sans-serif' font-size="17.0">5-50 ng/L</text>
<rect x="1248.00" y="128.40" width="55.00" height="28.50" fill="#C1E08E" shape-rendering="crispEdges"/>
<text transform="matrix(0.9977,0,0,1,1116.52,190.40)" font-family='"Liberation Sans", sans-serif' font-size="17.0">50-500 ng/L</text>
<rect x="1248.00" y="169.10" width="55.00" height="28.50" fill="#FFFD7E" shape-rendering="crispEdges"/>
<text transform="matrix(0.9921,0,0,1,1116.53,230.40)" font-family='"Liberation Sans", sans-serif' font-size="17.0">500-5000 ng/L</text>
<rect x="1248.00" y="209.70" width="55.00" height="28.50" fill="#FDD093" shape-rendering="crispEdges"/>
<text transform="matrix(1.0116,0,0,1,1116.51,269.70)" font-family='"Liberation Sans", sans-serif' font-size="17.0">5000+ ng/L</text>
<rect x="1248.00" y="250.30" width="55.00" height="28.50" fill="#FF7F7F" shape-rendering="crispEdges"/>
<text transform="translate(20.8,927.73) rotate(-90) scale(0.9967,1)" font-family='"Liberation Serif", serif' font-size="24.5" stroke="#000" stroke-width="0.25">Depth (mbgs)</text>
<rect x="82.20" y="1637.60" width="118.80" height="8.50" fill="#000" shape-rendering="crispEdges"/>
<rect x="201.0" y="1638.6" width="112.6" height="6.5" fill="#fff" stroke="#000" stroke-width="2"/>
<text transform="matrix(0.9985,0,0,1,72.74,1661.70)" font-family='"Liberation Serif", serif' font-size="16.5">0m</text>
<text transform="matrix(0.9997,0,0,1,189.12,1661.70)" font-family='"Liberation Serif", serif' font-size="16.5">1m</text>
<text transform="matrix(1.0076,0,0,1,303.75,1661.70)" font-family='"Liberation Serif", serif' font-size="16.5">2m</text>
<text transform="matrix(0.9390,0,0,1,495.91,1656.60)" font-family='"Liberation Serif", serif' font-size="23.8" stroke="#000" stroke-width="0.25">Groundwater Flow</text>
<line x1="522" y1="1692.6" x2="653" y2="1692.6" stroke="#000" stroke-width="4.2"/>
<path d="M633.5 1672.2 L654.0 1692.6 L633.5 1713.0" fill="none" stroke="#000" stroke-width="4.2" stroke-linecap="butt" stroke-miterlimit="10"/>
</svg>
</body></html>
